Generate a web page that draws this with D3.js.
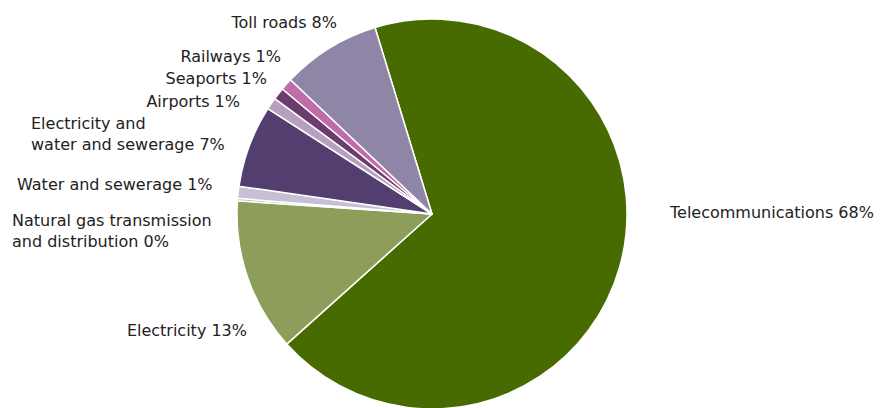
<!DOCTYPE html>
<html>
<head>
<meta charset="utf-8">
<script src="https://cdn.jsdelivr.net/npm/d3@7"></script>
<style>
    body { margin:0; background:#fff; }
    svg text { font-family:"DejaVu Sans", sans-serif; font-size:16px; fill:#222; }
</style>
</head>
<body>
<svg id="chart"></svg>
<script>
// data, clockwise from the top-left edge of telecoms
const categories = ['Telecommunications','Electricity','Natural gas transmission\nand distribution','Water and sewerage',
                    'Electricity and\nwater and sewerage','Airports','Seaports','Railways','Toll roads'];
const shares     = [68.1, 12.7, 0.2, 1.0, 6.8, 1.0, 1.0, 1.0, 8.2];
const shareLabels= [68, 13, 0, 1, 7, 1, 1, 1, 8];
const colors     = ['#476b00','#8c9e5a','#b3bf98','#c6bfd6','#533f6f','#b5a0c0','#6b3c6d','#bf6da8','#8f85a6'];

// where each label sits : [x, baseline y, anchor]
const labelPos = [[670,218,'start'],[247,336,'end'],[12,226,'start'],[17,190,'start'],
                  [31,129,'start'],[240,107,'end'],[267,84,'end'],[281,62,'end'],[337,28,'end']];

const size = { width:881, height:408 },
      pie  = { cx:432, cy:214, r:195, start:-17*Math.PI/180 };

const svg = d3.select('#chart').attr('width',size.width).attr('height',size.height);

const data = categories.map((c,i)=> ({ name:c, value:shares[i], label:shareLabels[i], color:colors[i] }));

const arcs = d3.pie().sort(null).value(d=> d.value)
                .startAngle(pie.start).endAngle(pie.start+2*Math.PI)(data);
const arc = d3.arc().innerRadius(0).outerRadius(pie.r);

const g = svg.append('g').attr('transform',`translate(${pie.cx},${pie.cy})`);
g.selectAll('path').data(arcs).join('path')
    .attr('d',arc)
    .attr('fill',d=> d.data.color)
    .attr('stroke','#fff')
    .attr('stroke-width',1.5)
    .attr('stroke-linejoin','round');

const lh = 21;
svg.append('g').selectAll('text').data(data).join('text')
    .attr('x',(d,i)=> labelPos[i][0])
    .attr('y',(d,i)=> labelPos[i][1])
    .attr('text-anchor',(d,i)=> labelPos[i][2])
    .each(function(d){
        const lines = d.name.split('\n');
        lines[lines.length-1] += ` ${d.label}%`;
        const t = d3.select(this), x = t.attr('x');
        lines.forEach((l,k)=> t.append('tspan').attr('x',x).attr('dy',k? lh:0).text(l));
    });
</script>
</body>
</html>
